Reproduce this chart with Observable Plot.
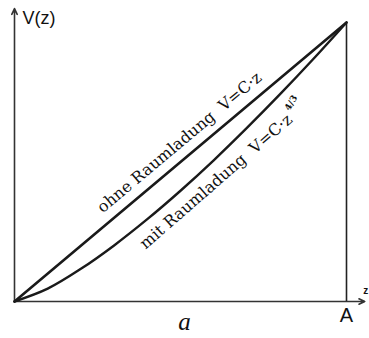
<!DOCTYPE html>
<html>
<head>
<meta charset="utf-8">
<script src="https://cdn.jsdelivr.net/npm/d3@7"></script>
<script src="https://cdn.jsdelivr.net/npm/@observablehq/plot@0.6"></script>
<style>
  html, body { margin: 0; padding: 0; background: #fff; }
</style>
</head>
<body>
<div id="chart"></div>
<script>
// z positions (0 = origin, 1 = anode A), V normalised to V(A)
const zLinear = [0, 1];
const vLinear = [0, 1];                       // ohne Raumladung: V = C·z
const zCurve = [0, 0.1, 0.2, 0.3, 0.4, 0.5, 0.6, 0.7, 0.8, 0.9, 1];
const vCurve = [0, 0.046, 0.117, 0.201, 0.295, 0.397, 0.506, 0.622, 0.743, 0.869, 1]; // mit Raumladung

const labelOhne = "ohne Raumladung\u00a0\u00a0V=C·z";
const labelMit = "mit Raumladung\u00a0\u00a0V=C·z";
const labelExp = "4/3";
const axisY = "V(z)";
const axisX = "z";
const labelA = "A";
const labelDist = "a";

const lin = zLinear.map((z, i) => ({z, v: vLinear[i]}));
const cur = zCurve.map((z, i) => ({z, v: vCurve[i]}));

const serif = "DejaVu Serif";
const sans = "Liberation Sans, Arial, sans-serif";

const chart = Plot.plot({
  width: 369,
  height: 338,
  margin: 0,
  x: {domain: [0, 1], range: [14, 346], axis: null},
  y: {domain: [0, 1], range: [301, 22], axis: null},
  style: {background: "#fff"},
  marks: [
    // axes with arrowheads
    Plot.arrow([{x1: 0, y1: 0, x2: 0, y2: 1.05}], {x1: "x1", y1: "y1", x2: "x2", y2: "y2", stroke: "#333", strokeWidth: 1.6, headLength: 6, headAngle: 50}),
    Plot.arrow([{x1: 0, y1: 0, x2: 1.055, y2: 0}], {x1: "x1", y1: "y1", x2: "x2", y2: "y2", stroke: "#333", strokeWidth: 1.6, headLength: 6, headAngle: 50}),
    // vertical line at A
    Plot.ruleX([1], {y1: 0, y2: 1, stroke: "#222", strokeWidth: 1.6}),
    // curves
    Plot.line(lin, {x: "z", y: "v", stroke: "#1a1a1a", strokeWidth: 2.6}),
    Plot.line(cur, {x: "z", y: "v", stroke: "#1a1a1a", strokeWidth: 2.4, curve: "catmull-rom"}),
    // labels along curves
    Plot.text([labelOhne], {x: 0.497, y: 0.57, text: d => d, rotate: -40, fontSize: 16, fontFamily: serif, fill: "#111"}),
    Plot.text([labelMit], {x: 0.607, y: 0.43, text: d => d, rotate: -41, fontSize: 16, fontFamily: serif, fill: "#111"}),
    Plot.text([labelExp], {x: 0.833, y: 0.712, text: d => d, rotate: -60, fontSize: 9, fontFamily: serif, fontWeight: "bold", fill: "#111"}),
    // axis labels
    Plot.text([axisY], {x: 0.024, y: 1.014, text: d => d, textAnchor: "start", fontSize: 18, fontFamily: sans, fill: "#111"}),
    Plot.text([axisX], {x: 1.058, y: 0.04, text: d => d, fontSize: 10, fontWeight: "bold", fontFamily: sans, fill: "#111"}),
    Plot.text([labelA], {x: 1, y: -0.05, text: d => d, fontSize: 20, fontFamily: sans, fill: "#111"}),
    Plot.text([labelDist], {x: 0.512, y: -0.075, text: d => d, fontSize: 25, fontStyle: "italic", fontFamily: "Liberation Serif", fill: "#111"})
  ]
});
document.getElementById("chart").appendChild(chart);
</script>
</body>
</html>
